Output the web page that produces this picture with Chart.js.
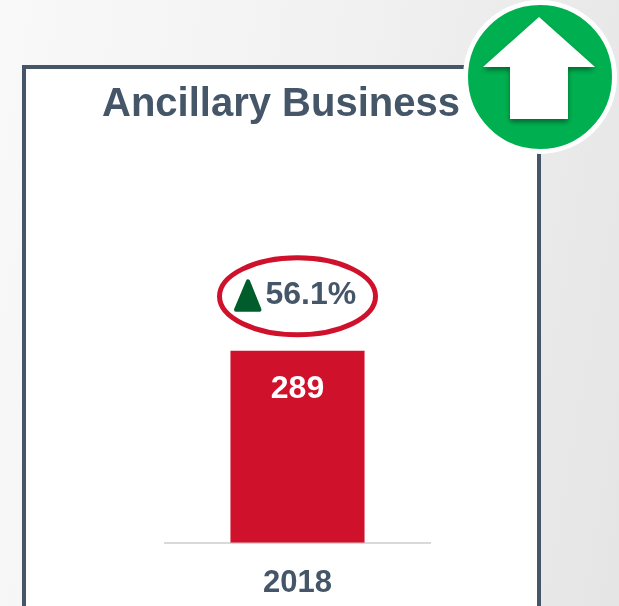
<!DOCTYPE html>
<html>
<head>
<meta charset="utf-8">
<title>Ancillary Business</title>
<script src="https://cdn.jsdelivr.net/npm/chart.js@4/dist/chart.umd.min.js"></script>
<style>
  html, body { margin: 0; padding: 0; overflow: hidden; }
  body { width: 619px; height: 606px; position: relative; background: linear-gradient(100deg, #f9f9f9 0%, #f1f1f1 50%, #e5e5e5 100%); }
  #box { position: absolute; left: 22px; top: 65px; width: 511px; height: 600px; background: #fff; border: 4px solid #445668; box-sizing: content-box; }
  #chartWrap { position: absolute; left: 0; top: 0; width: 562px; height: 616px; }
  #badge { position: absolute; left: 0; top: 0; }
</style>
</head>
<body>
<div id="box"></div>
<div id="chartWrap"><canvas id="chartCanvas" width="562" height="616"></canvas></div>
<svg id="badge" width="619" height="606">
  <defs>
    <filter id="arrowShadow" x="-20%" y="-20%" width="140%" height="140%">
      <feDropShadow dx="0" dy="3" stdDeviation="2.5" flood-color="#00602c" flood-opacity="0.9"/>
    </filter>
  </defs>
  <circle cx="540" cy="77" r="74.5" fill="#00b050" stroke="#fff" stroke-width="5"/>
  <polygon points="539,17 595,67 568,67 568,119 510,119 510,67 483,67" fill="#fff" filter="url(#arrowShadow)"/>
</svg>
<script>
const categories = ['2018'];
const seriesValues = [289];
const changeLabels = ['56.1%'];
const chartTitle = 'Ancillary Business';

const TEXT_COLOR = '#445668';
const BAR_COLOR = '#d0112b';
const FONT = '"Liberation Sans", Arial, sans-serif';

// Draws the value inside the bar and the circled change above it
const barNotes = {
  id: 'barNotes',
  afterDatasetsDraw(chart) {
    const ctx = chart.ctx;
    chart.getDatasetMeta(0).data.forEach((bar, i) => {
      ctx.save();
      ctx.textBaseline = 'middle';
      ctx.font = `bold 32px ${FONT}`;

      ctx.fillStyle = '#fff';
      ctx.textAlign = 'center';
      ctx.fillText(String(seriesValues[i]), bar.x, bar.y + 38);

      // red ellipse
      const cy = bar.y - 54.5;
      ctx.beginPath();
      ctx.ellipse(bar.x, cy, 78, 38.5, 0, 0, Math.PI * 2);
      ctx.strokeStyle = BAR_COLOR;
      ctx.lineWidth = 5;
      ctx.stroke();

      // green triangle
      ctx.beginPath();
      ctx.moveTo(bar.x - 49.5, cy - 15);
      ctx.lineTo(bar.x - 38, cy + 13.5);
      ctx.lineTo(bar.x - 61.5, cy + 13.5);
      ctx.closePath();
      ctx.fillStyle = '#005c2b';
      ctx.strokeStyle = '#005c2b';
      ctx.lineWidth = 4;
      ctx.lineJoin = 'round';
      ctx.fill();
      ctx.stroke();

      ctx.fillStyle = TEXT_COLOR;
      ctx.textAlign = 'left';
      ctx.fillText(changeLabels[i], bar.x - 32, cy - 1);
      ctx.restore();
    });
  }
};

// Empty side axes keep the plot narrow while the title still gets the full width
const hiddenSide = (position, width) => ({
  position: position,
  axis: 'y',
  min: 0,
  max: 623,
  grid: { display: false },
  border: { display: false },
  ticks: { display: false },
  afterFit(scale) { scale.width = width; },
});

new Chart(document.getElementById('chartCanvas'), {
  type: 'bar',
  data: {
    labels: categories,
    datasets: [{
      data: seriesValues,
      backgroundColor: BAR_COLOR,
      barPercentage: 0.506,
      categoryPercentage: 1,
    }],
  },
  options: {
    responsive: false,
    animation: false,
    scales: {
      x: {
        grid: { display: false },
        border: { color: '#d9d9d9', width: 2 },
        ticks: { color: TEXT_COLOR, font: { family: FONT, size: 31, weight: 'bold' }, padding: 14 },
      },
      y: hiddenSide('left', 165),
      yRight: hiddenSide('right', 132),
    },
    plugins: {
      legend: { display: false },
      tooltip: { enabled: false },
      title: {
        display: true,
        text: chartTitle,
        color: TEXT_COLOR,
        font: { family: FONT, size: 40, weight: 'bold' },
        padding: { top: 81, bottom: 0 },
      },
    },
  },
  plugins: [barNotes],
});
</script>
</body>
</html>
